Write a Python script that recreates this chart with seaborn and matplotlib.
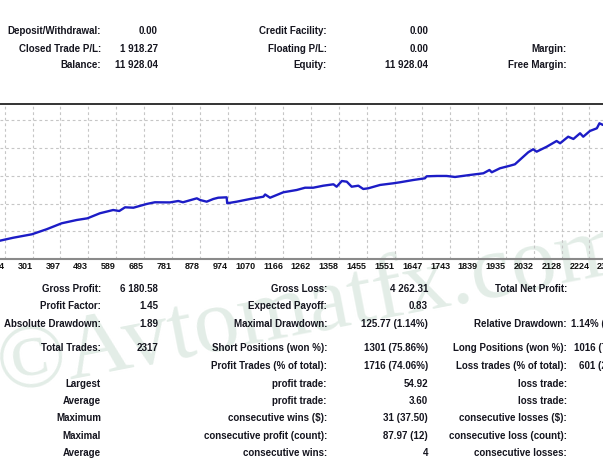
import matplotlib
matplotlib.use("Agg")
import matplotlib.pyplot as plt
import seaborn as sns
from matplotlib import font_manager

W, H = 603, 476

# ---------------- data ----------------
trade_no = [0, 188, 234, 298, 349, 401, 453, 490, 533, 579, 600, 620, 649, 695, 723,
            775, 804, 820, 868, 879, 902, 925, 942, 971, 973, 1006, 1052, 1098, 1104, 1121,
            1167, 1213, 1242, 1270, 1305, 1340, 1351, 1369, 1386, 1403, 1426, 1443, 1460, 1501, 1547,
            1570, 1616, 1656, 1662, 1697, 1731, 1760, 1812, 1858, 1879, 1887, 1915, 1950, 1967, 1996,
            2013, 2030, 2042, 2077, 2111, 2123, 2151, 2169, 2192, 2203, 2226, 2250, 2259, 2271, 2317]
balance = [10010, 10130, 10174, 10225, 10300, 10389, 10438, 10463, 10538, 10587, 10572, 10627, 10621, 10677, 10702,
           10700, 10721, 10702, 10761, 10736, 10711, 10751, 10770, 10776, 10687, 10711, 10751, 10785, 10818, 10770,
           10851, 10885, 10919, 10919, 10949, 10970, 10934, 11019, 11009, 10934, 10949, 10900, 10910, 10960, 10985,
           11000, 11034, 11059, 11089, 11094, 11094, 11079, 11109, 11134, 11183, 11149, 11208, 11247, 11268, 11381,
           11447, 11492, 11456, 11530, 11615, 11581, 11679, 11645, 11730, 11679, 11764, 11804, 11879, 11854, 11928]

x_ticks = [204, 301, 397, 493, 589, 685, 781, 878, 974, 1070, 1166, 1262, 1358, 1455,
           1551, 1647, 1743, 1839, 1935, 2032, 2128, 2224, 2320]
y_grid = [10270, 10683, 11096, 11509, 11922]

top_labels_a = ["Deposit/Withdrawal:", "Closed Trade P/L:", "Balance:"]
top_values_a = ["0.00", "1 918.27", "11 928.04"]
top_labels_b = ["Credit Facility:", "Floating P/L:", "Equity:"]
top_values_b = ["0.00", "0.00", "11 928.04"]
top_labels_c = ["", "Margin:", "Free Margin:"]

low_labels_a = ["Gross Profit:", "Profit Factor:", "Absolute Drawdown:", "Total Trades:", "",
                "Largest", "Average", "Maximum", "Maximal", "Average"]
low_values_a = ["6 180.58", "1.45", "1.89", "2317", "", "", "", "", "", ""]
low_labels_b = ["Gross Loss:", "Expected Payoff:", "Maximal Drawdown:", "Short Positions (won %):",
                "Profit Trades (% of total):", "profit trade:", "profit trade:", "consecutive wins ($):",
                "consecutive profit (count):", "consecutive wins:"]
low_values_b = ["4 262.31", "0.83", "125.77 (1.14%)", "1301 (75.86%)", "1716 (74.06%)",
                "54.92", "3.60", "31 (37.50)", "87.97 (12)", "4"]
low_labels_c = ["Total Net Profit:", "", "Relative Drawdown:", "Long Positions (won %):",
                "Loss trades (% of total):", "loss trade:", "loss trade:", "consecutive losses ($):",
                "consecutive loss (count):", "consecutive losses:"]
low_values_c = ["", "", "1.14% (125.77)", "1016 (71.75%)", "601 (25.94%)", "", "", "", "", ""]

# ---------------- style ----------------
sns.set_style("white")
names = {f.name for f in font_manager.fontManager.ttflist}
SANS = "Liberation Sans" if "Liberation Sans" in names else "DejaVu Sans"
NARROW = "Liberation Sans Narrow" if "Liberation Sans Narrow" in names else SANS
SERIF = "Liberation Serif" if "Liberation Serif" in names else "DejaVu Serif"
plt.rcParams["font.family"] = [SANS, "DejaVu Sans"]

fig = plt.figure(figsize=(W / 100, H / 100), dpi=100)
fig.patch.set_facecolor("white")

# watermark
fig.text(2 / W, 1 - 392 / H, "\u00a9Avtomatfx.com", rotation=11, rotation_mode="anchor",
         ha="left", va="baseline", fontsize=66, family=[SERIF, "DejaVu Serif"],
         color="#e3ede7", zorder=-5)

# ---------------- chart ----------------
PX_PER_TRADE = 0.28945
ax_left_px, ax_right_px, ax_top_px, ax_bot_px = 0, 620, 104, 259
ax = fig.add_axes([ax_left_px / W, 1 - ax_bot_px / H,
                   (ax_right_px - ax_left_px) / W, (ax_bot_px - ax_top_px) / H])
ax.patch.set_alpha(0)

sns.lineplot(x=trade_no, y=balance, ax=ax, color="#1c1cc6", linewidth=1.7,
             estimator=None, sort=False, zorder=5)

ax.set_xlim(188, 188 + (ax_right_px - ax_left_px) / PX_PER_TRADE)
ax.set_ylim(9857, 12166)
ax.set_xticks(x_ticks)
ax.set_xticklabels([str(t) for t in x_ticks])
ax.set_yticks(y_grid)
ax.set_yticklabels([])
ax.tick_params(axis="y", length=0)
ax.tick_params(axis="x", direction="in", length=3, width=1, color="#808080",
               pad=2.5, labelsize=6.5, labelcolor="#111111")
for lbl in ax.get_xticklabels():
    lbl.set_horizontalalignment("right")
    lbl.set_fontfamily(NARROW)
    lbl.set_fontweight("bold")
ax.grid(True, color="#c6c6c6", linestyle=(0, (2.5, 2.5)), linewidth=0.8)
ax.set_axisbelow(True)
for side in ("left", "right"):
    ax.spines[side].set_visible(False)
ax.spines["top"].set_color("#111111")
ax.spines["top"].set_linewidth(1.2)
ax.spines["bottom"].set_color("#8a8a8a")
ax.spines["bottom"].set_linewidth(1.5)
ax.set_xlabel("")
ax.set_ylabel("")


# ---------------- text tables ----------------
def put(x, y, s, ha):
    if s:
        fig.text(x / W, 1 - y / H, s, ha=ha, va="baseline", fontsize=7,
                 fontweight="bold", color="#15151f")


COL_A_LBL, COL_A_VAL = 101, 158
COL_B_LBL, COL_B_VAL = 327, 428
COL_C_LBL, COL_C_VAL = 567, 638

top_baselines = [34.5, 52, 68.5]
for i, yb in enumerate(top_baselines):
    put(COL_A_LBL, yb, top_labels_a[i], "right")
    put(COL_A_VAL, yb, top_values_a[i], "right")
    put(COL_B_LBL, yb, top_labels_b[i], "right")
    put(COL_B_VAL, yb, top_values_b[i], "right")
    put(COL_C_LBL, yb, top_labels_c[i], "right")

low_baselines = [292, 309.3, 326.7, 351.3, 369, 386.7, 404, 421.3, 439, 455.7]
for i, yb in enumerate(low_baselines):
    put(COL_A_LBL, yb, low_labels_a[i], "right")
    put(COL_A_VAL, yb, low_values_a[i], "right")
    put(COL_B_LBL, yb, low_labels_b[i], "right")
    put(COL_B_VAL, yb, low_values_b[i], "right")
    put(COL_C_LBL, yb, low_labels_c[i], "right")
    put(COL_C_VAL, yb, low_values_c[i], "right")

fig.savefig("out.png", dpi=100)
